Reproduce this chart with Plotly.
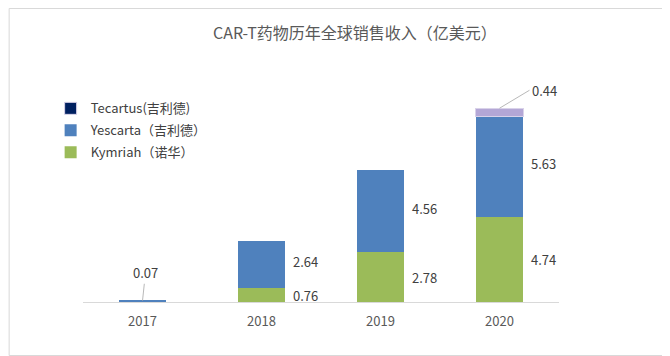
import plotly.graph_objects as go

years = ["2017", "2018", "2019", "2020"]
kymriah = [None, 0.76, 2.78, 4.74]
yescarta = [0.07, 2.64, 4.56, 5.63]
tecartus = [None, None, None, 0.44]

names = ["Kymriah（诺华）", "Yescarta（吉利德）", "Tecartus(吉利德)"]
FONT = "Noto Sans CJK SC, Microsoft YaHei, sans-serif"
TXT = "#404040"

fig = go.Figure()
fig.add_trace(go.Bar(x=years, y=kymriah, name=names[0], legendgroup="k", legendrank=3,
                     marker=dict(color="#9bbb59", line=dict(width=0))))
fig.add_trace(go.Bar(x=years, y=yescarta, name=names[1], legendgroup="y", legendrank=2,
                     marker=dict(color="#4f81bd", line=dict(width=0))))
fig.add_trace(go.Bar(x=years, y=tecartus, name=names[2], legendgroup="t", legendrank=1,
                     marker=dict(color=["#002060", "#002060", "#002060", "#b4a7d6"],
                                 line=dict(width=1, color="#d9d2e9"))))

anns = []
for i, yr in enumerate(years):
    k = kymriah[i] or 0
    y = yescarta[i]
    if k:
        anns.append(dict(x=i, y=k / 2, text=f"{k:.2f}", showarrow=False, xanchor="left",
                         xshift=29, font=dict(size=13, color=TXT, family=FONT)))
    if i > 0:
        anns.append(dict(x=i, y=k + y / 2, text=f"{y:.2f}", showarrow=False, xanchor="left",
                         xshift=29, yshift=3, font=dict(size=13, color=TXT, family=FONT)))
anns.append(dict(x=0, y=yescarta[0], text=f"{yescarta[0]:.2f}", showarrow=True, arrowhead=0,
                 arrowwidth=0.8, arrowcolor="#a6a6a6", ax=3, ay=-28,
                 font=dict(size=13, color=TXT, family=FONT)))
top = kymriah[3] + yescarta[3] + tecartus[3]
anns.append(dict(x=3, y=top, text=f"{tecartus[3]:.2f}", showarrow=True, arrowhead=0,
                 arrowwidth=0.8, arrowcolor="#a6a6a6", ax=30, ay=-18, xanchor="left",
                 font=dict(size=13, color=TXT, family=FONT)))

fig.update_layout(
    width=662, height=348,
    margin=dict(l=74.5, r=110.5, t=52, b=54),
    paper_bgcolor="white", plot_bgcolor="white",
    barmode="stack", bargap=0.6,
    title=dict(text="CAR-T药物历年全球销售收入（亿美元）", x=0.524, xanchor="center", y=0.928, yanchor="middle",
               font=dict(size=16, color="#595959", family=FONT)),
    font=dict(family=FONT, color=TXT),
    legend=dict(x=-0.068, y=0.862, xanchor="left", yanchor="top", traceorder="grouped",
                tracegroupgap=2,
                font=dict(size=13, color=TXT, family=FONT),
                bgcolor="rgba(0,0,0,0)"),
    xaxis=dict(type="category", range=[-0.5, 3.5], showline=True, linecolor="#d9d9d9", linewidth=1,
               ticks="outside", ticklen=7, tickcolor="rgba(0,0,0,0)",
               tickfont=dict(size=13, color="#595959", family=FONT)),
    yaxis=dict(range=[0, 13.5], visible=False),
    annotations=anns,
    shapes=[dict(type="rect", xref="paper", yref="paper",
                 x0=-74 / 477, x1=587 / 477, y0=-53.5 / 242, y1=293.5 / 242,
                 line=dict(color="#d9d9d9", width=1))],
)

fig.write_html("out.html")
